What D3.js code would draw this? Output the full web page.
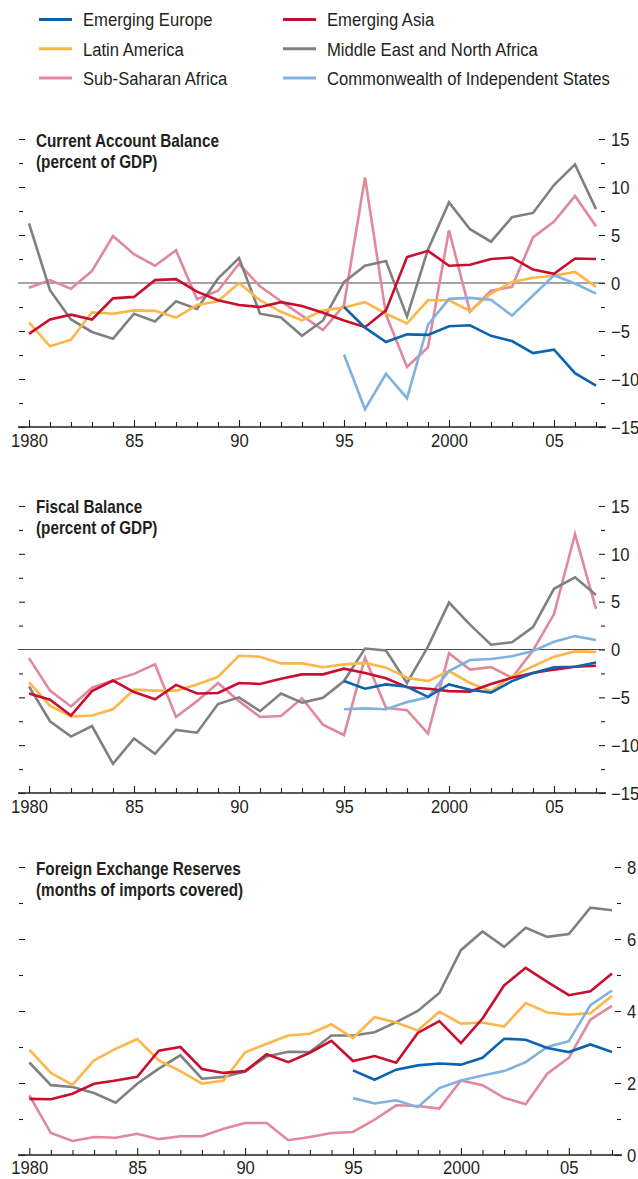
<!DOCTYPE html>
<html>
<head>
<meta charset="utf-8">
<script src="https://cdn.jsdelivr.net/npm/d3@7"></script>
<style>
  body { margin: 0; background: #fff; }
  svg { display: block; }
  text { font-family: "Liberation Sans", Arial, sans-serif; fill: #231f20; }
</style>
</head>
<body>
<svg id="chart" width="638" height="1179"></svg>
<script>
// years and tick labels
var years = [1980, 1981, 1982, 1983, 1984, 1985, 1986, 1987, 1988, 1989,
  1990, 1991, 1992, 1993, 1994, 1995, 1996, 1997, 1998, 1999,
  2000, 2001, 2002, 2003, 2004, 2005, 2006, 2007];
var majorYears = [1980, 1985, 1990, 1995, 2000, 2005];
var yearLabels = ["1980", "85", "90", "95", "2000", "05"];

var regions = ["Emerging Europe", "Emerging Asia", "Latin America",
  "Middle East and North Africa", "Sub-Saharan Africa", "Commonwealth of Independent States"];
var colors = ["#0a64b0", "#c8102e", "#fdb64a", "#808080", "#e0889c", "#7fb2df"];

var N = null;
// Current account balance (percent of GDP)
var caEurope = [N, N, N, N, N, N, N, N, N, N, N, N, N, N, N,
  -2.5, -4.65, -6.15, -5.35, -5.4, -4.5, -4.4, -5.5, -6.05, -7.3, -6.95, -9.4, -10.7];
var caAsia = [-5.3, -3.8, -3.3, -3.8, -1.6, -1.45, 0.3, 0.4, -0.9, -1.8, -2.3, -2.5, -2.0, -2.4,
  -3.1, -3.9, -4.6, -2.85, 2.7, 3.35, 1.8, 1.9, 2.5, 2.65, 1.4, 0.95, 2.55, 2.5];
var caLatin = [-4.1, -6.6, -5.9, -3.05, -3.2, -2.85, -2.9, -3.6, -2.3, -1.9, 0.0, -1.8, -3.0, -3.9,
  -2.85, -2.55, -2.0, -3.2, -4.2, -1.8, -1.8, -2.9, -1.1, 0.1, 0.55, 0.75, 1.15, -0.4];
var caMENA = [6.2, -0.75, -3.8, -5.1, -5.8, -3.2, -4.0, -1.9, -2.7, 0.45, 2.6, -3.2, -3.6, -5.5,
  -3.9, 0.1, 1.8, 2.3, -3.5, 3.5, 8.4, 5.6, 4.3, 6.85, 7.3, 10.2, 12.35, 7.7];
var caSSA = [-0.5, 0.3, -0.6, 1.25, 4.9, 3.0, 1.8, 3.4, -1.7, -0.8, 2.0, -0.35, -1.9, -3.4,
  -4.9, -2.3, 11.0, -3.3, -8.75, -6.7, 5.5, -3.0, -0.8, -0.4, 4.75, 6.4, 9.06, 5.9];
var caCIS = [N, N, N, N, N, N, N, N, N, N, N, N, N, N, N,
  -7.45, -13.15, -9.45, -12.0, -4.35, -1.65, -1.55, -1.75, -3.4, -1.3, 0.8, -0.05, -1.1];

// Fiscal balance (percent of GDP)
var fbEurope = [N, N, N, N, N, N, N, N, N, N, N, N, N, N, N,
  -3.3, -4.1, -3.65, -3.9, -4.95, -3.65, -4.2, -4.5, -3.3, -2.45, -1.85, -1.8, -1.35];
var fbAsia = [-4.6, -5.25, -6.9, -4.35, -3.25, -4.45, -5.2, -3.7, -4.6, -4.55, -3.5, -3.6, -3.05, -2.6,
  -2.6, -2.0, -2.45, -3.0, -3.95, -4.1, -4.35, -4.4, -3.6, -2.95, -2.45, -2.1, -1.8, -1.7];
var fbLatin = [-3.4, -5.9, -7.0, -6.9, -6.25, -4.2, -4.3, -4.3, -3.65, -2.85, -0.65, -0.75, -1.45, -1.45,
  -1.85, -1.55, -1.4, -1.9, -2.95, -3.3, -2.25, -3.5, -4.35, -2.8, -1.75, -0.75, -0.2, -0.25];
var fbMENA = [-3.85, -7.5, -9.1, -8.0, -11.95, -9.3, -10.9, -8.4, -8.7, -5.7, -5.0, -6.45, -4.6, -5.55,
  -5.05, -3.3, 0.1, -0.1, -3.5, 0.3, 4.9, 2.6, 0.5, 0.75, 2.35, 6.35, 7.55, 5.7];
var fbSSA = [-0.9, -4.3, -5.95, -4.0, -3.25, -2.55, -1.55, -7.05, -5.4, -3.5, -5.4, -7.05, -6.95, -5.1,
  -7.85, -8.95, -0.85, -6.1, -6.35, -8.8, -0.4, -2.1, -1.85, -2.95, -0.1, 3.7, 12.05, 4.25];
var fbCIS = [N, N, N, N, N, N, N, N, N, N, N, N, N, N, N,
  -6.25, -6.15, -6.25, -5.5, -5.0, -2.25, -1.1, -1.0, -0.7, -0.15, 0.8, 1.4, 1.0];

// Foreign exchange reserves (months of imports covered)
var frEurope = [N, N, N, N, N, N, N, N, N, N, N, N, N, N, N,
  2.35, 2.09, 2.37, 2.49, 2.54, 2.51, 2.7, 3.23, 3.2, 2.97, 2.86, 3.07, 2.86];
var frAsia = [1.56, 1.55, 1.7, 1.98, 2.07, 2.17, 2.9, 3.0, 2.39, 2.28, 2.33, 2.8, 2.58, 2.84,
  3.17, 2.61, 2.75, 2.56, 3.39, 3.72, 3.11, 3.79, 4.71, 5.2, 4.81, 4.44, 4.55, 5.04];
var frLatin = [2.93, 2.28, 1.95, 2.63, 2.95, 3.22, 2.63, 2.33, 1.98, 2.07, 2.85, 3.09, 3.32, 3.37,
  3.63, 3.25, 3.83, 3.68, 3.46, 3.98, 3.65, 3.68, 3.57, 4.22, 3.96, 3.9, 3.94, 4.42];
var frMENA = [2.57, 1.94, 1.89, 1.72, 1.45, 1.98, 2.4, 2.77, 2.12, 2.17, 2.32, 2.74, 2.87, 2.86,
  3.32, 3.32, 3.41, 3.69, 4.0, 4.5, 5.69, 6.21, 5.78, 6.31, 6.06, 6.14, 6.87, 6.8];
var frSSA = [1.66, 0.61, 0.39, 0.5, 0.48, 0.59, 0.44, 0.52, 0.52, 0.73, 0.89, 0.89, 0.41, 0.5,
  0.61, 0.64, 0.98, 1.38, 1.36, 1.29, 2.07, 1.94, 1.59, 1.41, 2.26, 2.7, 3.76, 4.14];
var frCIS = [N, N, N, N, N, N, N, N, N, N, N, N, N, N, N,
  1.58, 1.43, 1.52, 1.33, 1.86, 2.07, 2.21, 2.33, 2.58, 3.0, 3.16, 4.16, 4.57];

var svg = d3.select("#chart");

// the original face is condensed, so squeeze Liberation Sans a bit
var LEG_SX = 0.9, TITLE_SX = 0.85, NUM_SX = 0.95;

// legend
var legend = svg.append("g");
regions.forEach(function(name, i) {
  var col = i % 2, row = Math.floor(i / 2);
  var lx = col ? 283 : 39, ly = 19.5 + row * 29.3;
  legend.append("line")
    .attr("x1", lx).attr("x2", lx + 33).attr("y1", ly).attr("y2", ly)
    .attr("stroke", colors[i]).attr("stroke-width", 3);
  legend.append("text")
    .attr("transform", "translate(" + (lx + 44) + "," + (ly + 6.8) + ") scale(" + LEG_SX + ",1)")
    .style("font-size", "18.5px")
    .text(name);
});

// draw order: back to front
var drawOrder = [4, 3, 2, 5, 1, 0];

var drawPanel = function(p) {
  var g = svg.append("g");
  var x = d3.scaleLinear().domain([1980, 2007]).range([p.x0, p.x1]);
  var y = d3.scaleLinear().domain(p.domain).range([p.yBottom, p.yTop]);

  var majors = d3.range(p.domain[0], p.domain[1] + 0.001, p.major);
  var minors = d3.range(p.domain[0] + p.major / 2, p.domain[1], p.major);

  // left ticks (no labels)
  g.append("g").attr("transform", "translate(" + p.left + ",0)")
    .call(d3.axisRight(y).tickValues(majors.filter(function(v) { return v !== 0 || !p.zero; })).tickSize(6).tickFormat(""));
  g.append("g").attr("transform", "translate(" + p.left + ",0)")
    .call(d3.axisRight(y).tickValues(minors).tickSize(4).tickFormat(""));
  // right ticks with labels
  g.append("g").attr("class", "yr").attr("transform", "translate(" + p.right + ",0)")
    .call(d3.axisRight(y).tickValues(majors).tickSizeInner(-6).tickPadding(6).tickFormat(d3.format("d")));
  g.append("g").attr("transform", "translate(" + p.right + ",0)")
    .call(d3.axisRight(y).tickValues(minors).tickSizeInner(-4).tickFormat(""));

  // x axis
  g.append("g").attr("transform", "translate(0," + p.yBottom + ")")
    .call(d3.axisBottom(x).tickValues(years.filter(function(v) { return majorYears.indexOf(v) < 0; }))
      .tickSizeInner(-5).tickFormat(""));
  g.append("g").attr("class", "xa").attr("transform", "translate(0," + p.yBottom + ")")
    .call(d3.axisBottom(x).tickValues(majorYears).tickSizeInner(-7).tickPadding(p.xPad)
      .tickFormat(function(d, i) { return yearLabels[i]; }));

  g.selectAll(".domain").remove();
  g.selectAll(".tick line").attr("stroke", "#231f20").attr("stroke-width", 1.1);
  g.selectAll(".tick text").style("font-size", "17.5px").attr("fill", "#231f20")
    .style("font-family", "'Liberation Sans', Arial, sans-serif");
  g.selectAll(".yr .tick text").attr("dy", "0.36em")
    .attr("x", 6 / NUM_SX).attr("transform", "scale(" + NUM_SX + ",1)");
  g.selectAll(".xa .tick text").attr("transform", "scale(" + NUM_SX + ",1)");

  g.append("line")
    .attr("x1", p.left - 1).attr("x2", p.right + 1)
    .attr("y1", p.yBottom).attr("y2", p.yBottom)
    .attr("stroke", "#231f20").attr("stroke-width", 1.3);

  if (p.zero) {
    g.append("line")
      .attr("x1", p.left - 1).attr("x2", p.right)
      .attr("y1", y(0)).attr("y2", y(0))
      .attr("stroke", "#4a4a4a").attr("stroke-width", 1.1);
  }

  // title
  p.title.forEach(function(t, i) {
    g.append("text")
      .attr("transform", "translate(36," + (p.titleY + i * 20.5) + ") scale(" + TITLE_SX + ",1)")
      .style("font-size", "18px").style("font-weight", "bold")
      .text(t);
  });

  var line = d3.line()
    .defined(function(d) { return d != null; })
    .x(function(d, i) { return x(years[i]); })
    .y(function(d) { return y(d); });

  drawOrder.forEach(function(k) {
    g.append("path")
      .datum(p.series[k])
      .attr("d", line)
      .attr("fill", "none")
      .attr("stroke", colors[k])
      .attr("stroke-width", 2.6)
      .attr("stroke-linejoin", "miter");
  });
};

drawPanel({
  title: ["Current Account Balance", "(percent of GDP)"], titleY: 147,
  x0: 29, x1: 596, left: 19, right: 605, xPad: 8,
  domain: [-15, 15], major: 5, yTop: 139, yBottom: 427, zero: true,
  series: [caEurope, caAsia, caLatin, caMENA, caSSA, caCIS]
});
drawPanel({
  title: ["Fiscal Balance", "(percent of GDP)"], titleY: 513,
  x0: 29, x1: 596, left: 19, right: 605, xPad: 8,
  domain: [-15, 15], major: 5, yTop: 506, yBottom: 793, zero: true,
  series: [fbEurope, fbAsia, fbLatin, fbMENA, fbSSA, fbCIS]
});
drawPanel({
  title: ["Foreign Exchange Reserves", "(months of imports covered)"], titleY: 875,
  x0: 29.3, x1: 612, left: 19, right: 621, xPad: 7,
  domain: [0, 8], major: 2, yTop: 867, yBottom: 1155, zero: false,
  series: [frEurope, frAsia, frLatin, frMENA, frSSA, frCIS]
});
</script>
</body>
</html>
